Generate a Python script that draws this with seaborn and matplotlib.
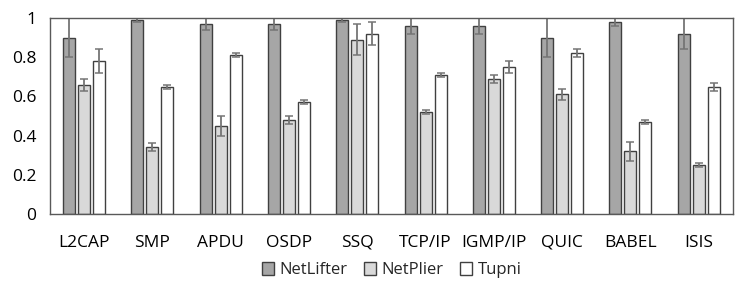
import matplotlib
matplotlib.use("Agg")
import matplotlib.pyplot as plt
import seaborn as sns
import pandas as pd
import numpy as np

# Values
protocols = ["L2CAP", "SMP", "APDU", "OSDP", "SSQ", "TCP/IP", "IGMP/IP", "QUIC", "BABEL", "ISIS"]
tools = ["NetLifter", "NetPlier", "Tupni"]
netlifter = [0.90, 0.99, 0.97, 0.97, 0.99, 0.96, 0.96, 0.90, 0.98, 0.92]
netplier = [0.66, 0.34, 0.45, 0.48, 0.89, 0.52, 0.69, 0.61, 0.32, 0.25]
tupni = [0.78, 0.65, 0.81, 0.57, 0.92, 0.71, 0.75, 0.82, 0.47, 0.65]
netlifter_err = [0.10, 0.01, 0.03, 0.03, 0.01, 0.04, 0.04, 0.10, 0.02, 0.08]
netplier_err = [0.03, 0.02, 0.05, 0.02, 0.08, 0.01, 0.02, 0.03, 0.05, 0.01]
tupni_err = [0.06, 0.01, 0.01, 0.01, 0.06, 0.01, 0.03, 0.02, 0.01, 0.02]

colors = ["#A6A6A6", "#D9D9D9", "#FFFFFF"]

df = pd.DataFrame({
    "protocol": protocols * 3,
    "tool": [t for t in tools for _ in protocols],
    "value": netlifter + netplier + tupni,
    "err": netlifter_err + netplier_err + tupni_err,
})

sns.set_style("white")
plt.rcParams["font.family"] = ["Open Sans", "DejaVu Sans"]

fig = plt.figure(figsize=(7.47, 2.96), dpi=100)
ax = fig.add_axes([0.067, 0.277, 0.914, 0.662])

sns.barplot(data=df, x="protocol", y="value", hue="tool", palette=colors,
            width=0.66, gap=0.2, errorbar=None, edgecolor="#404040",
            linewidth=1.0, ax=ax)

# error bars at the bar centres
for i, t in enumerate(tools):
    sub = df[df["tool"] == t]
    cont = ax.containers[i]
    xs = [p.get_x() + p.get_width() / 2 for p in cont.patches]
    ax.errorbar(xs, sub["value"], yerr=sub["err"], fmt="none",
                ecolor="#757575", elinewidth=1.3, capsize=3, capthick=1.1)

ax.set_ylim(0, 1)
ax.set_xlim(-0.5, len(protocols) - 0.5)
ax.set_yticks([0, 0.2, 0.4, 0.6, 0.8, 1])
ax.set_yticklabels(["0", "0.2", "0.4", "0.6", "0.8", "1"])
ax.set_xlabel("")
ax.set_ylabel("")
ax.tick_params(axis="both", length=0, labelsize=12.5, colors="#000000")
ax.tick_params(axis="x", pad=15)
ax.tick_params(axis="y", pad=10)
for s in ax.spines.values():
    s.set_color("#595959")
    s.set_linewidth(1.0)

ax.legend(loc="upper center", bbox_to_anchor=(0.5, -0.17), ncol=3, frameon=False,
          fontsize=12, handlelength=0.75, handleheight=0.75, handletextpad=0.3,
          columnspacing=1.0)

fig.savefig("out.png", dpi=100)
